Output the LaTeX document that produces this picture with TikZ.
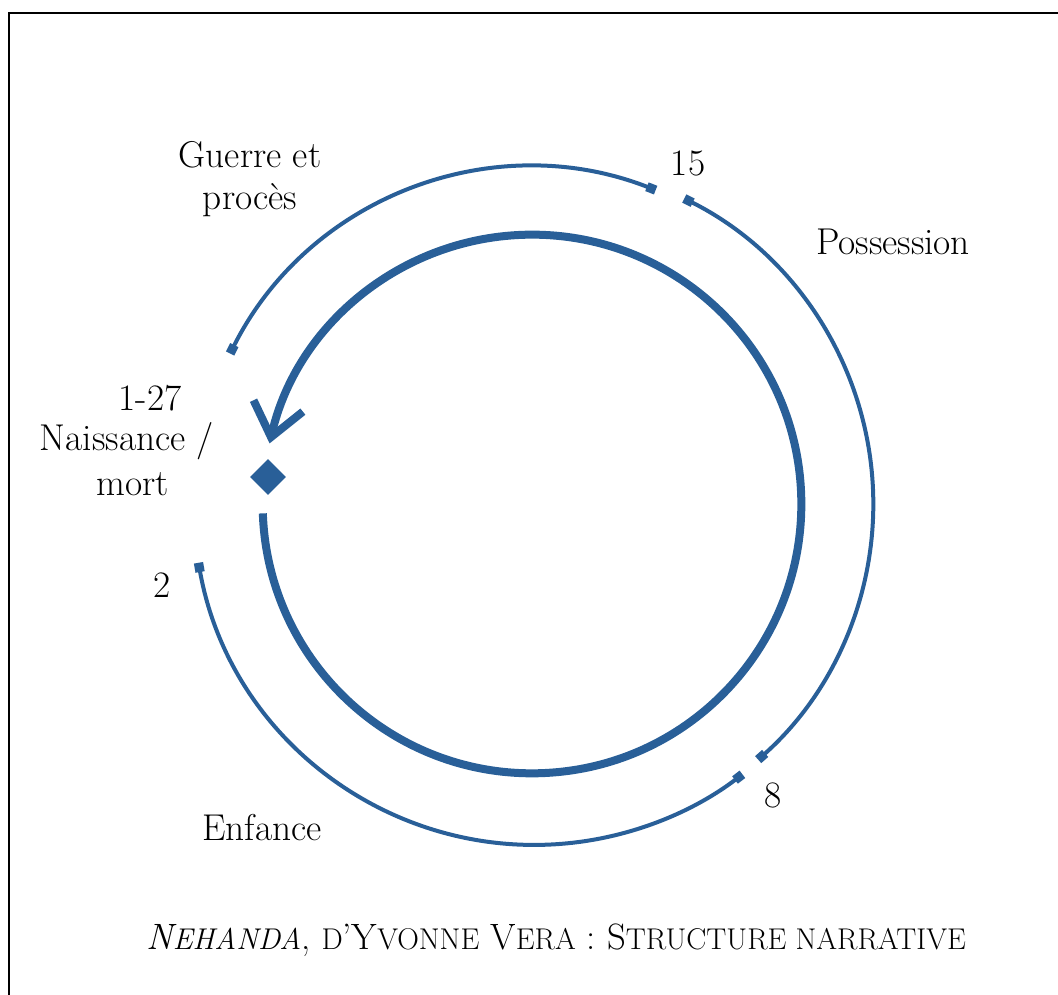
\documentclass[tikz,border=0pt]{standalone}
\usepackage{fontspec}
\usetikzlibrary{arrows.meta,shapes.geometric,calc}
\definecolor{cblue}{RGB}{41,95,152}
\newcommand{\smc}[1]{{\fontsize{22.5}{26}\selectfont #1}}
\begin{document}
\begin{tikzpicture}[x=0.75pt,y=0.75pt,
  lbl/.style={font=\fontsize{28}{32}\selectfont, inner sep=0pt, align=center},
  thin arc/.style={draw=cblue, line width=3pt, {Square[length=7pt,width=7pt]}-{Square[length=7pt,width=7pt]}},
  thick arc/.style={draw=cblue, line width=6pt, -{Straight Barb[length=24pt,width=38pt]}}]
\useasboundingbox (0,0) rectangle (1058,995);
% frame (top and left edges)
\coordinate (F1) at (1058,982);
\coordinate (F2) at (9,982);
\coordinate (F3) at (9,0);
\draw[line width=1.5pt] (F1) -- (F2) -- (F3);
% centre
\coordinate (C) at (532,491);
% thick circle with arrow
\coordinate (S) at ($(C)+(182:202pt)$);
\draw[thick arc] (S) arc[start angle=182, end angle=527, radius=202pt];
% diamond
\node[diamond, fill=cblue, minimum size=27pt, inner sep=0pt] (D) at (268,518) {};
% outer arcs
\coordinate (A1) at ($(C)+(153.5:253pt)$);
\draw[thin arc] (A1) arc[start angle=153.5, end angle=68.5, radius=253pt];
\coordinate (A2) at ($(C)+(63.5:256pt)$);
\draw[thin arc] (A2) arc[start angle=63.5, end angle=-48.5, radius=256pt];
\coordinate (A3) at ($(C)+(190:254pt)$);
\draw[thin arc] (A3) arc[start angle=190, end angle=307.5, radius=256pt];
% labels
\node[lbl] (n15) at (688,832) {15};
\node[lbl] (poss) at (893,753) {Possession};
\node[lbl] (guer) at (250,816) {Guerre et\\procès};
\node[lbl] (n127) at (150,597) {1-27};
\node[lbl] (nais) at (127,554) {Naissance /};
\node[lbl] (mort) at (133,511) {mort};
\node[lbl] (n2) at (162,410) {2};
\node[lbl] (n8) at (773,200) {8};
\node[lbl] (enf) at (262,167) {Enfance};
\node[inner sep=0pt, font=\fontsize{27.5}{32}\selectfont] (cap) at (556,55)
  {{\itshape N\smc{EHANDA}}, \smc{D}'Y\smc{VONNE} V\smc{ERA} : S\smc{TRUCTURE NARRATIVE}};
\end{tikzpicture}
\end{document}
